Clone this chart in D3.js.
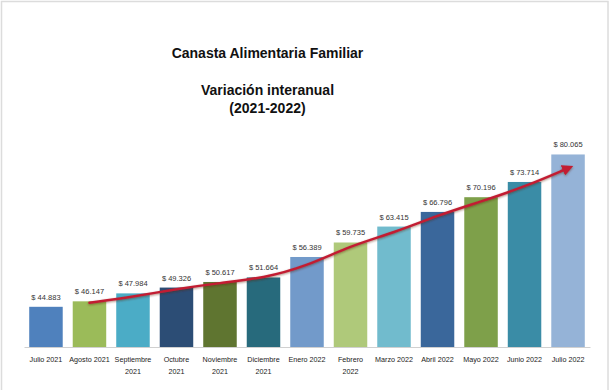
<!DOCTYPE html>
<html>
<head>
<meta charset="utf-8">
<script src="https://cdn.jsdelivr.net/npm/d3@7"></script>
<style>
  html, body { margin: 0; padding: 0; background: #fff; }
  svg { display: block; font-family: "Liberation Sans", Arial, sans-serif; }
</style>
</head>
<body>
<svg id="chart" width="610" height="390"></svg>
<script>
// ---- data ----
const categories = ["Julio 2021", "Agosto 2021", "Septiembre 2021", "Octubre 2021", "Noviembre 2021",
  "Diciembre 2021", "Enero 2022", "Febrero 2022", "Marzo 2022", "Abril 2022", "Mayo 2022", "Junio 2022", "Julio 2022"];
const categoryLines = [["Julio 2021"], ["Agosto 2021"], ["Septiembre", "2021"], ["Octubre", "2021"], ["Noviembre", "2021"],
  ["Diciembre", "2021"], ["Enero 2022"], ["Febrero", "2022"], ["Marzo 2022"], ["Abril 2022"], ["Mayo 2022"], ["Junio 2022"], ["Julio 2022"]];
const values = [44.883, 46.147, 47.984, 49.326, 50.617, 51.664, 56.389, 59.735, 63.415, 66.796, 70.196, 73.714, 80.065];
const valueLabels = ["$ 44.883", "$ 46.147", "$ 47.984", "$ 49.326", "$ 50.617", "$ 51.664", "$ 56.389", "$ 59.735",
  "$ 63.415", "$ 66.796", "$ 70.196", "$ 73.714", "$ 80.065"];
const barColors = ["#4f81bd", "#9bbb59", "#4bacc6", "#2c4d75", "#5f7530", "#276a7c", "#729aca",
  "#afc97a", "#71bbcd", "#3a679b", "#7ea04a", "#3a8ca6", "#95b3d7"];
// trend arrow (hand-drawn in original)
const trendCategories = ["Agosto 2021", "Septiembre 2021", "Octubre 2021", "Noviembre 2021", "Diciembre 2021",
  "Enero 2022", "Febrero 2022", "Marzo 2022", "Abril 2022", "Mayo 2022", "Junio 2022", "Julio 2022"];
const trendValues = [45.8, 47.2, 49.0, 50.4, 51.5, 54.3, 59.0, 62.0, 66.0, 69.2, 72.6, 76.9];
const titleLines = ["Canasta Alimentaria Familiar", "Variación interanual", "(2021-2022)"];

// ---- chart ----
const svg = d3.select("#chart");

// light frame
svg.append("rect").attr("x", 1.5).attr("y", 1.5).attr("width", 606.5).attr("height", 400)
  .attr("fill", "none").attr("stroke", "#dcdcdc").attr("stroke-width", 1.5);

const x = d3.scaleBand().domain(categories).range([24, 590]).paddingInner(0.23).paddingOuter(0.12);
const y = d3.scaleLinear().domain([35.6, 85]).range([347, 347 - 49.4 * 4.33]);

// title
const titleY = [58, 95, 113];
svg.append("g").selectAll("text").data(titleLines).join("text")
  .attr("x", 267.5).attr("y", (d, i) => titleY[i])
  .attr("text-anchor", "middle").attr("font-weight", "bold").attr("font-size", 14).attr("fill", "#111")
  .text(d => d);

// bars
svg.append("g").selectAll("rect").data(values).join("rect")
  .attr("x", (d, i) => x(categories[i]))
  .attr("y", d => y(d))
  .attr("width", x.bandwidth())
  .attr("height", d => y(35.6) - y(d))
  .attr("fill", (d, i) => barColors[i]);

// baseline axis
const xAxis = d3.axisBottom(x).tickSize(0).tickFormat("");
const ax = svg.append("g").attr("transform", `translate(0,${y(35.6)})`).call(xAxis);
ax.select(".domain").attr("stroke", "#d0d0d0").attr("stroke-width", 1);

// category labels
const catG = svg.append("g");
categoryLines.forEach((lines, i) => {
  const t = catG.append("text")
    .attr("x", x(categories[i]) + x.bandwidth() / 2)
    .attr("y", 362)
    .attr("text-anchor", "middle").attr("font-size", 7.2).attr("fill", "#222");
  lines.forEach((ln, j) => {
    t.append("tspan").attr("x", x(categories[i]) + x.bandwidth() / 2).attr("dy", j === 0 ? 0 : 11.5).text(ln);
  });
});

// value labels
svg.append("g").selectAll("text").data(values).join("text")
  .attr("x", (d, i) => x(categories[i]) + x.bandwidth() / 2)
  .attr("y", d => y(d) - 7)
  .attr("text-anchor", "middle").attr("font-size", 7.5).attr("fill", "#333")
  .text((d, i) => valueLabels[i]);

// arrow
const defs = svg.append("defs");
defs.append("marker").attr("id", "arrow").attr("viewBox", "0 0 10 10")
  .attr("refX", 5).attr("refY", 5).attr("markerWidth", 4.5).attr("markerHeight", 4.5)
  .attr("orient", "auto-start-reverse").attr("markerUnits", "strokeWidth")
  .append("path").attr("d", "M0,0 L10,5 L0,10 Z").attr("fill", "#c21f33");
defs.append("filter").attr("id", "shadow").attr("x", "-10%").attr("y", "-10%").attr("width", "120%").attr("height", "140%")
  .append("feDropShadow").attr("dx", 0).attr("dy", 1).attr("stdDeviation", 0.8).attr("flood-color", "#5a1a00").attr("flood-opacity", 0.5);

const line = d3.line()
  .x((d, i) => x(trendCategories[i]) + x.bandwidth() / 2)
  .y(d => y(d))
  .curve(d3.curveBasis);
svg.append("path").datum(trendValues)
  .attr("d", line)
  .attr("fill", "none").attr("stroke", "#c21f33").attr("stroke-width", 2.5)
  .attr("stroke-linecap", "round")
  .attr("filter", "url(#shadow)")
  .attr("marker-end", "url(#arrow)");
</script>
</body>
</html>
